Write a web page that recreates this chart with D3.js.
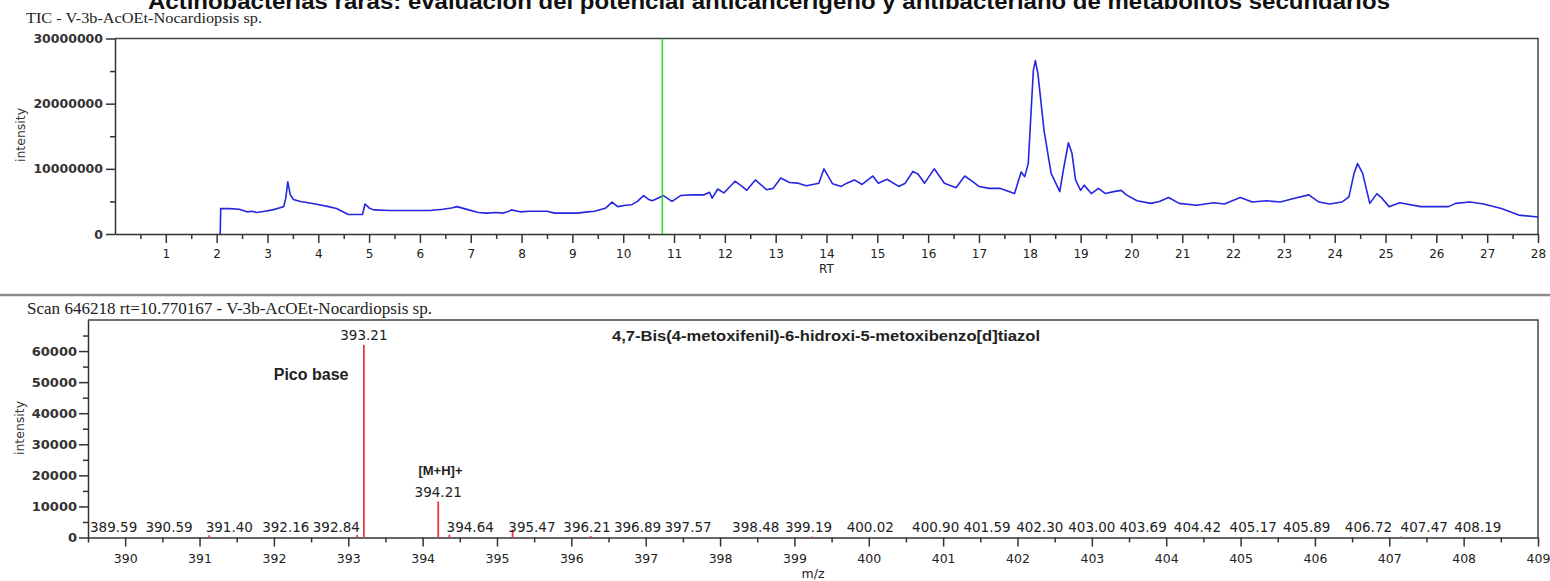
<!DOCTYPE html>
<meta charset="utf-8">
<style>
  body { margin: 0; background: #fff; }
  svg { display: block; background: #fff; }
  .ax path, .ax line { stroke: #333; }
</style>
<body>
<script src="https://d3js.org/d3.v7.min.js"></script>
<script>
// texts
const pageTitle = 'Actinobacterias raras: evaluación del potencial anticancerígeno y antibacteriano de metabolitos secundarios';
const ticTitle = 'TIC - V-3b-AcOEt-Nocardiopsis sp.';
const scanTitle = 'Scan 646218 rt=10.770167 - V-3b-AcOEt-Nocardiopsis sp.';
const compoundName = '4,7-Bis(4-metoxifenil)-6-hidroxi-5-metoxibenzo[d]tiazol';
const scanRt = 10.770167;

// TIC chromatogram (RT in min, intensity in millions)
const rtValues = [2.07, 2.08, 2.25, 2.44, 2.6, 2.7, 2.78, 2.95, 3.1, 3.23, 3.32, 3.36, 3.40, 3.45, 3.51, 3.65, 3.80,
  4.02, 4.2, 4.36, 4.59, 4.87, 4.92, 5.0, 5.09, 5.4, 5.8, 6.2, 6.45, 6.62, 6.73, 6.96, 7.15, 7.3, 7.5, 7.63, 7.75,
  7.8, 7.97, 8.15, 8.3, 8.5, 8.65, 8.9, 9.1, 9.3, 9.44, 9.66, 9.78, 9.89, 10.05, 10.17, 10.28, 10.4, 10.5, 10.57,
  10.68, 10.79, 10.96, 11.13, 11.35, 11.58, 11.7, 11.75, 11.86, 11.98, 12.2, 12.37, 12.43, 12.6, 12.82, 12.95,
  13.1, 13.27, 13.44, 13.6, 13.73, 13.85, 13.95, 14.12, 14.29, 14.4, 14.55, 14.7, 14.91, 15.02, 15.19, 15.42,
  15.55, 15.7, 15.8, 15.93, 16.12, 16.32, 16.55, 16.72, 16.85, 17.0, 17.2, 17.42, 17.7, 17.83, 17.9, 17.97,
  18.07, 18.11, 18.16, 18.28, 18.42, 18.59, 18.66, 18.76, 18.83, 18.9, 19.0, 19.07, 19.21, 19.35, 19.49, 19.65,
  19.8, 19.9, 20.11, 20.38, 20.55, 20.73, 20.94, 21.28, 21.62, 21.83, 22.14, 22.38, 22.66, 22.93, 23.21, 23.49,
  23.69, 23.9, 24.14, 24.28, 24.38, 24.45, 24.55, 24.69, 24.83, 24.93, 25.07, 25.28, 25.69, 26.24, 26.38, 26.66,
  26.93, 27.28, 27.62, 28.0];
const ticValues = [0, 3.9, 3.9, 3.8, 3.4, 3.5, 3.3, 3.5, 3.7, 4.0, 4.2, 5.5, 8.0, 6.0, 5.3, 5.0, 4.8,
  4.5, 4.2, 3.9, 3.0, 3.0, 4.6, 4.0, 3.7, 3.6, 3.6, 3.6, 3.8, 4.0, 4.2, 3.7, 3.3, 3.2, 3.3, 3.2, 3.5,
  3.7, 3.4, 3.5, 3.5, 3.5, 3.2, 3.2, 3.2, 3.4, 3.5, 4.0, 4.9, 4.2, 4.4, 4.5, 5.0, 5.9, 5.3, 5.1,
  5.5, 5.9, 5.0, 5.9, 6.0, 6.0, 6.4, 5.5, 6.9, 6.3, 8.1, 7.1, 6.7, 8.3, 6.8, 7.0,
  8.6, 7.9, 7.8, 7.4, 7.6, 7.8, 10.0, 7.7, 7.3, 7.8, 8.3, 7.6, 8.9, 7.8, 8.4, 7.3,
  7.8, 9.6, 9.2, 7.8, 10.0, 7.8, 7.1, 8.9, 8.2, 7.3, 7.0, 7.0, 6.2, 9.5, 8.8, 10.8,
  25.1, 26.6, 24.6, 15.9, 9.3, 6.5, 9.8, 14.0, 12.4, 8.3, 6.7, 7.5, 6.2, 7.0, 6.2, 6.5,
  6.7, 6.0, 5.1, 4.7, 5.0, 5.6, 4.7, 4.4, 4.8, 4.6, 5.6, 4.9, 5.1, 4.9, 5.5, 6.0,
  4.9, 4.6, 4.9, 5.7, 9.3, 10.8, 9.3, 4.7, 6.2, 5.5, 4.2, 4.8, 4.2, 4.2, 4.7, 4.9,
  4.6, 3.9, 2.9, 2.6];
const rtTicks = [1, 2, 3, 4, 5, 6, 7, 8, 9, 10, 11, 12, 13, 14, 15, 16, 17, 18, 19, 20, 21, 22, 23, 24, 25, 26, 27, 28];
const ticTicks = [0, 10, 20, 30];
const ticTickLabels = ['0', '10000000', '20000000', '30000000'];

// mass spectrum at rt 10.77
const peakMz = [389.59, 390.59, 391.13, 391.40, 392.16, 392.84, 393.12, 393.21, 394.21, 394.36, 394.64, 395.21, 395.47,
  396.21, 396.26, 396.89, 397.57, 398.48, 399.19, 399.24, 400.02, 400.90, 401.59, 402.30, 403.00, 403.69, 404.42,
  405.17, 405.89, 406.72, 407.16, 407.47, 408.19];
const peakIntensity = [200, 200, 700, 200, 200, 200, 800, 62000, 11600, 900, 200, 2600, 200,
  200, 500, 200, 200, 200, 200, 300, 200, 200, 200, 200, 200, 200, 200,
  200, 200, 200, 300, 200, 200];
const peakLabel = ['389.59', '390.59', '', '391.40', '392.16', '392.84', '', '393.21', '394.21', '', '394.64', '', '395.47',
  '396.21', '', '396.89', '397.57', '398.48', '399.19', '', '400.02', '400.90', '401.59', '402.30', '403.00', '403.69', '404.42',
  '405.17', '405.89', '406.72', '', '407.47', '408.19'];
const mzTicks = [390, 391, 392, 393, 394, 395, 396, 397, 398, 399, 400, 401, 402, 403, 404, 405, 406, 407, 408, 409];
const msTicks = [0, 10000, 20000, 30000, 40000, 50000, 60000];

const width = 1550;
const height = 581;
const axisFont = "'DejaVu Sans', Verdana, sans-serif";

const svg = d3.select('body').append('svg')
  .attr('width', width)
  .attr('height', height);

// page title, cut at the top
svg.append('text')
  .attr('x', 148).attr('y', 9)
  .attr('textLength', 1242).attr('lengthAdjust', 'spacingAndGlyphs')
  .style('font', "bold 22px 'Liberation Sans', Arial, sans-serif")
  .attr('fill', '#111')
  .text(pageTitle);

// ---------- TIC panel ----------
const xTop = d3.scaleLinear().domain([0, 28]).range([115, 1538]);
const yTop = d3.scaleLinear().domain([0, 30]).range([234, 38.5]);

svg.append('text')
  .attr('x', 26).attr('y', 23)
  .attr('textLength', 236).attr('lengthAdjust', 'spacingAndGlyphs')
  .style('font', "15px 'Liberation Serif', 'Times New Roman', serif")
  .attr('fill', '#222')
  .text(ticTitle);

// frame top + right
svg.append('path')
  .attr('d', `M${xTop(0)},${yTop(30)}H${xTop(28)}V${yTop(0)}`)
  .attr('fill', 'none').attr('stroke', '#444').attr('stroke-width', 1.5);

const rtMinor = rtTicks.map(d => d - 0.5);
svg.append('g').attr('class', 'ax')
  .attr('transform', `translate(0,${yTop(0)})`)
  .call(d3.axisBottom(xTop).tickValues(rtMinor).tickSize(5).tickSizeOuter(0).tickFormat(''))
  .call(g => g.select('.domain').remove());
const gxTop = svg.append('g').attr('class', 'ax')
  .attr('transform', `translate(0,${yTop(0)})`)
  .call(d3.axisBottom(xTop).tickValues(rtTicks).tickSize(9).tickSizeOuter(0).tickFormat(d3.format('d')));
gxTop.selectAll('text').attr('y', 24).attr('dy', 0)
  .style('font', `12px ${axisFont}`).attr('fill', '#222');

svg.append('g').attr('class', 'ax')
  .attr('transform', `translate(${xTop(0)},0)`)
  .call(d3.axisLeft(yTop).tickValues([5, 15, 25]).tickSize(5).tickSizeOuter(0).tickFormat(''))
  .call(g => g.select('.domain').remove());
const gyTop = svg.append('g').attr('class', 'ax')
  .attr('transform', `translate(${xTop(0)},0)`)
  .call(d3.axisLeft(yTop).tickValues(ticTicks).tickSize(9).tickSizeOuter(0)
    .tickFormat((d, i) => ticTickLabels[i]));
gyTop.selectAll('text').attr('x', -12)
  .style('font', `bold 12.5px ${axisFont}`).attr('fill', '#333');

svg.selectAll('.ax path, .ax line').attr('stroke', '#333').attr('stroke-width', 1.5);

svg.append('text')
  .attr('transform', `translate(25,135) rotate(-90)`)
  .attr('text-anchor', 'middle')
  .style('font', `12.5px ${axisFont}`).attr('fill', '#333')
  .text('intensity');
svg.append('text')
  .attr('x', (xTop(0) + xTop(28)) / 2).attr('y', 273)
  .attr('text-anchor', 'middle')
  .style('font', `12px ${axisFont}`).attr('fill', '#222')
  .text('RT');

const ticLine = d3.line()
  .x((d, i) => xTop(rtValues[i]))
  .y(d => yTop(d));
svg.append('path')
  .datum(ticValues)
  .attr('d', ticLine)
  .attr('fill', 'none')
  .attr('stroke', '#2626e0')
  .attr('stroke-width', 1.6)
  .attr('stroke-linejoin', 'round');

svg.append('line')
  .attr('x1', xTop(scanRt)).attr('x2', xTop(scanRt))
  .attr('y1', yTop(30)).attr('y2', yTop(0))
  .attr('stroke', '#22dd22').attr('stroke-width', 1.5);

// separator between panels
svg.append('line')
  .attr('x1', 0).attr('x2', width).attr('y1', 295).attr('y2', 295)
  .attr('stroke', '#8c8c8c').attr('stroke-width', 2.5);

// ---------- spectrum panel ----------
const xBot = d3.scaleLinear().domain([389.5, 409]).range([88, 1538]);
const yBot = d3.scaleLinear().domain([0, 70000]).range([537.5, 320]);

svg.append('text')
  .attr('x', 27).attr('y', 314)
  .attr('textLength', 405).attr('lengthAdjust', 'spacingAndGlyphs')
  .style('font', "16px 'Liberation Serif', 'Times New Roman', serif")
  .attr('fill', '#222')
  .text(scanTitle);

svg.append('path')
  .attr('d', `M${xBot(389.5)},${yBot(70000)}H${xBot(409)}V${yBot(0)}`)
  .attr('fill', 'none').attr('stroke', '#444').attr('stroke-width', 1.5);

const mzMinor = mzTicks.map(d => d - 0.5);
svg.append('g').attr('class', 'ax2')
  .attr('transform', `translate(0,${yBot(0)})`)
  .call(d3.axisBottom(xBot).tickValues(mzMinor).tickSize(5).tickSizeOuter(0).tickFormat(''))
  .call(g => g.select('.domain').remove());
const gxBot = svg.append('g').attr('class', 'ax2')
  .attr('transform', `translate(0,${yBot(0)})`)
  .call(d3.axisBottom(xBot).tickValues(mzTicks).tickSize(9).tickSizeOuter(0).tickFormat(d3.format('d')));
gxBot.selectAll('text').attr('y', 25).attr('dy', 0)
  .style('font', `12.5px ${axisFont}`).attr('fill', '#222');

const msMinor = msTicks.map(d => d + 5000);
svg.append('g').attr('class', 'ax2')
  .attr('transform', `translate(${xBot(389.5)},0)`)
  .call(d3.axisLeft(yBot).tickValues(msMinor).tickSize(5).tickSizeOuter(0).tickFormat(''))
  .call(g => g.select('.domain').remove());
const gyBot = svg.append('g').attr('class', 'ax2')
  .attr('transform', `translate(${xBot(389.5)},0)`)
  .call(d3.axisLeft(yBot).tickValues(msTicks).tickSize(9).tickSizeOuter(0).tickFormat(d3.format('d')));
gyBot.selectAll('text').attr('x', -11)
  .style('font', `bold 13px ${axisFont}`).attr('fill', '#333');

svg.selectAll('.ax2 path, .ax2 line').attr('stroke', '#333').attr('stroke-width', 1.5);

svg.append('text')
  .attr('transform', `translate(24,428) rotate(-90)`)
  .attr('text-anchor', 'middle')
  .style('font', `12.5px ${axisFont}`).attr('fill', '#333')
  .text('intensity');
svg.append('text')
  .attr('x', (xBot(389.5) + xBot(409)) / 2).attr('y', 578)
  .attr('text-anchor', 'middle')
  .style('font', `12.5px ${axisFont}`).attr('fill', '#222')
  .text('m/z');

// peaks
svg.append('g').selectAll('line')
  .data(peakMz)
  .join('line')
  .attr('x1', d => xBot(d)).attr('x2', d => xBot(d))
  .attr('y1', yBot(0))
  .attr('y2', (d, i) => yBot(peakIntensity[i]))
  .attr('stroke', '#e8383c')
  .attr('stroke-width', 1.8);

// peak labels, kept inside the plot
const plotLeft = xBot(389.5);
svg.append('g').selectAll('text')
  .data(peakMz.map((d, i) => ({ mz: d, v: peakIntensity[i], label: peakLabel[i] })).filter(d => d.label))
  .join('text')
  .attr('x', d => xBot(d.mz))
  .attr('y', d => yBot(d.v) - 4.5)
  .attr('text-anchor', 'middle')
  .style('font', `13.5px ${axisFont}`)
  .attr('fill', '#222')
  .text(d => d.label)
  .each(function (d) {
    const w = this.getComputedTextLength();
    if (xBot(d.mz) - w / 2 < plotLeft + 2) d3.select(this).attr('x', plotLeft + 2 + w / 2);
  });

// annotations
svg.append('text')
  .attr('x', 826).attr('y', 341)
  .attr('text-anchor', 'middle')
  .attr('textLength', 428).attr('lengthAdjust', 'spacingAndGlyphs')
  .style('font', "bold 14.5px 'Liberation Sans', Arial, sans-serif")
  .attr('fill', '#222')
  .text(compoundName);
svg.append('text')
  .attr('x', xBot(392.5)).attr('y', 380)
  .attr('text-anchor', 'middle')
  .style('font', "bold 16px 'Liberation Sans', Arial, sans-serif")
  .attr('fill', '#222')
  .text('Pico base');
svg.append('text')
  .attr('x', xBot(394.24)).attr('y', 475)
  .attr('text-anchor', 'middle')
  .style('font', "bold 13px 'Liberation Sans', Arial, sans-serif")
  .attr('fill', '#222')
  .text('[M+H]+');
</script>
</body>
